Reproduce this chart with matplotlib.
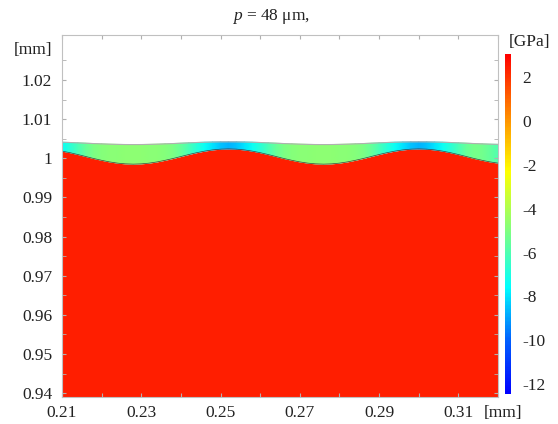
import numpy as np
import matplotlib
matplotlib.use('Agg')
import matplotlib.pyplot as plt
from matplotlib.colors import LinearSegmentedColormap, Normalize

plt.rcParams['font.family'] = 'serif'
plt.rcParams['font.serif'] = ['Liberation Serif', 'DejaVu Serif']
plt.rcParams['mathtext.fontset'] = 'custom'
plt.rcParams['mathtext.it'] = 'Liberation Serif:italic'
plt.rcParams['mathtext.rm'] = 'Liberation Serif'
plt.rcParams['axes.unicode_minus'] = False

# posiciones a lo largo del contacto [mm]
x_mm = [0.210, 0.212, 0.214, 0.216, 0.218, 0.220, 0.222, 0.224, 0.226, 0.228,
        0.230, 0.232, 0.234, 0.236, 0.238, 0.240, 0.242, 0.244, 0.246, 0.248,
        0.250, 0.252, 0.254, 0.256, 0.258, 0.260, 0.262, 0.264, 0.266, 0.268,
        0.270, 0.272, 0.274, 0.276, 0.278, 0.280, 0.282, 0.284, 0.286, 0.288,
        0.290, 0.292, 0.294, 0.296, 0.298, 0.300, 0.302, 0.304, 0.306, 0.308,
        0.310, 0.312, 0.314, 0.316, 0.318, 0.320]

# superficie rugosa (limite inferior de la pelicula) [mm]
superficie = [1.00183, 1.00143, 1.00096, 1.00045, 0.99994, 0.99948, 0.99907, 0.99876, 0.99857, 0.99850,
              0.99857, 0.99876, 0.99907, 0.99948, 0.99994, 1.00045, 1.00096, 1.00143, 1.00183, 1.00214,
              1.00233, 1.00240, 1.00233, 1.00214, 1.00183, 1.00143, 1.00096, 1.00045, 0.99994, 0.99948,
              0.99907, 0.99876, 0.99857, 0.99850, 0.99857, 0.99876, 0.99907, 0.99948, 0.99994, 1.00045,
              1.00096, 1.00143, 1.00183, 1.00214, 1.00233, 1.00240, 1.00233, 1.00214, 1.00183, 1.00143,
              1.00096, 1.00045, 0.99994, 0.99948, 0.99907, 0.99876]

# limite superior de la pelicula [mm]
techo = [1.00410, 1.00403, 1.00394, 1.00385, 1.00376, 1.00368, 1.00360, 1.00355, 1.00351, 1.00350,
         1.00351, 1.00355, 1.00360, 1.00368, 1.00376, 1.00385, 1.00394, 1.00403, 1.00410, 1.00415,
         1.00419, 1.00420, 1.00419, 1.00415, 1.00410, 1.00403, 1.00394, 1.00385, 1.00376, 1.00368,
         1.00360, 1.00355, 1.00351, 1.00350, 1.00351, 1.00355, 1.00360, 1.00368, 1.00376, 1.00385,
         1.00394, 1.00403, 1.00410, 1.00415, 1.00419, 1.00420, 1.00419, 1.00415, 1.00410, 1.00403,
         1.00394, 1.00385, 1.00376, 1.00368, 1.00360, 1.00355]

# presion en la pelicula [GPa]
presion = [-7.4, -6.8, -6.1, -5.5, -5.1, -4.9, -4.8, -4.8, -4.7, -4.7,
           -4.7, -4.8, -4.8, -4.9, -5.1, -5.5, -6.1, -6.8, -7.4, -8.0,
           -8.5, -8.7, -8.5, -8.0, -7.4, -6.8, -6.1, -5.5, -5.1, -4.9,
           -4.8, -4.8, -4.7, -4.7, -4.7, -4.8, -4.8, -4.9, -5.1, -5.5,
           -6.1, -6.8, -7.4, -8.0, -8.5, -8.7, -8.5, -8.0, -7.4, -6.8,
           -6.1, -5.5, -5.2, -5.3, -5.6, -6.0]

presion_solido = 2.4  # GPa
cbar_ticks = [2, 0, -2, -4, -6, -8, -10, -12]
x_ticks = [0.21, 0.22, 0.23, 0.24, 0.25, 0.26, 0.27, 0.28, 0.29, 0.30, 0.31, 0.32]
x_labels = ['0.21', '', '0.23', '', '0.25', '', '0.27', '', '0.29', '', '0.31', '']
y_ticks = [0.94, 0.95, 0.96, 0.97, 0.98, 0.99, 1.00, 1.01, 1.02]
y_labels = ['0.94', '0.95', '0.96', '0.97', '0.98', '0.99', '1', '1.01', '1.02']

cmap = LinearSegmentedColormap.from_list('arcoiris', [
    (0.0, '#0000ff'), (0.158, '#0060ff'), (0.313, '#00ffff'),
    (0.48, '#80ff80'), (0.655, '#ffff00'), (0.79, '#ffa000'), (1.0, '#ff0000')])
norm = Normalize(vmin=-12.45, vmax=3.05)

fs = 12.5
W, H = 558, 424
fig = plt.figure(figsize=(W / 100, H / 100), dpi=100)
ax = fig.add_axes([62 / W, (H - 397) / H, 436 / W, 362 / H])

x = np.array(x_mm)
y_sup = np.array(superficie)
y_top = np.array(techo)
p = np.array(presion)

# solido
ax.fill_between(x, 0.9, y_sup, color=cmap(norm(presion_solido)), lw=0)
# pelicula
X = np.vstack([x, x])
Y = np.vstack([y_sup, y_top])
C = np.vstack([p, p])
ax.pcolormesh(X, Y, C, cmap=cmap, norm=norm, shading='gouraud')
ax.plot(x, y_sup, color='#404040', lw=0.5)
ax.plot(x, y_top, color='#b0b0b0', lw=0.8)

ax.set_xlim(0.21, 0.32)
ax.set_ylim(0.939, 1.0315)
ax.set_xticks(x_ticks)
ax.set_xticklabels(x_labels)
ax.set_yticks(y_ticks)
ax.set_yticklabels(y_labels)
ax.set_yticks(np.array(y_ticks) + 0.005, minor=True)
ax.tick_params(which='both', direction='in', length=3, color='#b0b0b0',
               top=True, right=True, labelsize=fs, labelcolor='#222222')
ax.tick_params(axis='y', pad=7)
ax.tick_params(axis='x', pad=6)
for s in ax.spines.values():
    s.set_color('#c0c0c0')
    s.set_linewidth(0.8)

ax.text(-0.023, 0.9586, '[mm]', transform=ax.transAxes, ha='right', va='center',
        fontsize=fs, color='#222222')
ax.text(1.011, -0.043, '[mm]', transform=ax.transAxes, ha='center', va='center',
        fontsize=fs, color='#222222')
fig.text(271 / W, 1 - 16 / H, r'$p$ = 48 μm,', ha='center', va='center',
         fontsize=fs, color='#222222')

cax = fig.add_axes([505 / W, (H - 394) / H, 6 / W, 340 / H])
sm = plt.cm.ScalarMappable(norm=norm, cmap=cmap)
cb = fig.colorbar(sm, cax=cax)
cb.outline.set_visible(False)
cb.set_ticks(cbar_ticks)
cb.set_ticklabels([str(t) for t in cbar_ticks])
cax.tick_params(length=0, pad=8, labelsize=fs, labelcolor='#222222')
fig.text(530 / W, 1 - 42 / H, '[GPa]', ha='center', va='center',
         fontsize=fs, color='#222222')

fig.savefig('out.png', dpi=100)
